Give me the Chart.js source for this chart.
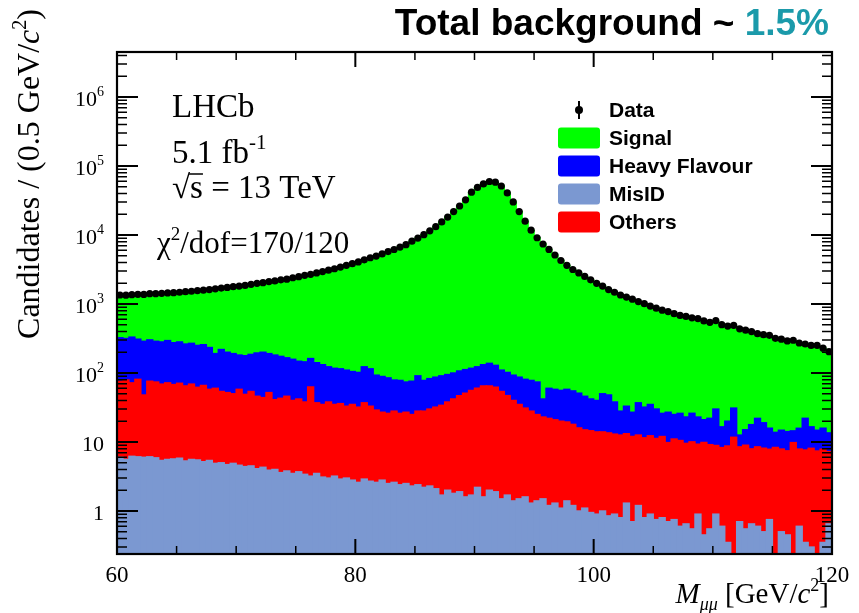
<!DOCTYPE html>
<html>
<head>
<meta charset="utf-8">
<title>Dimuon invariant mass</title>
<script src="https://cdn.jsdelivr.net/npm/chart.js@4.4.1/dist/chart.umd.min.js"></script>
<style>
  html, body { margin: 0; padding: 0; background: #fff; }
  #wrap { width: 859px; height: 613px; }
</style>
</head>
<body>
<div id="wrap"><canvas id="massChart" width="859" height="613"></canvas></div>
<script>
// ----- BINS: 120 x 0.5 GeV/c2 between 60 and 120 ----- //
const binCentres = [
  60.25, 60.75, 61.25, 61.75, 62.25, 62.75, 63.25, 63.75, 64.25, 64.75,
  65.25, 65.75, 66.25, 66.75, 67.25, 67.75, 68.25, 68.75, 69.25, 69.75,
  70.25, 70.75, 71.25, 71.75, 72.25, 72.75, 73.25, 73.75, 74.25, 74.75,
  75.25, 75.75, 76.25, 76.75, 77.25, 77.75, 78.25, 78.75, 79.25, 79.75,
  80.25, 80.75, 81.25, 81.75, 82.25, 82.75, 83.25, 83.75, 84.25, 84.75,
  85.25, 85.75, 86.25, 86.75, 87.25, 87.75, 88.25, 88.75, 89.25, 89.75,
  90.25, 90.75, 91.25, 91.75, 92.25, 92.75, 93.25, 93.75, 94.25, 94.75,
  95.25, 95.75, 96.25, 96.75, 97.25, 97.75, 98.25, 98.75, 99.25, 99.75,
  100.25, 100.75, 101.25, 101.75, 102.25, 102.75, 103.25, 103.75, 104.25, 104.75,
  105.25, 105.75, 106.25, 106.75, 107.25, 107.75, 108.25, 108.75, 109.25, 109.75,
  110.25, 110.75, 111.25, 111.75, 112.25, 112.75, 113.25, 113.75, 114.25, 114.75,
  115.25, 115.75, 116.25, 116.75, 117.25, 117.75, 118.25, 118.75, 119.25, 119.75
];

// fit components, stacked from the bottom up
const misIdCounts = [
  6.0, 5.6, 6.2, 6.1, 6.0, 6.1, 5.9, 5.4, 5.6, 5.7,
  5.8, 5.3, 5.6, 5.5, 5.2, 5.4, 4.9, 5.0, 4.7, 4.9,
  4.6, 4.4, 4.5, 4.1, 4.3, 3.9, 4.0, 3.6, 3.8, 3.5,
  3.7, 3.4, 3.2, 3.5, 3.1, 3.0, 3.2, 2.9, 3.0, 2.8,
  2.6, 2.9, 2.7, 2.6, 2.8, 2.5, 2.6, 2.4, 2.5, 2.3,
  2.4, 2.2, 2.3, 2.1, 1.7, 2.0, 1.8, 1.9, 1.6, 1.7,
  2.2, 1.6, 2.0, 1.9, 1.5, 1.7, 1.4, 1.5, 1.6, 1.3,
  1.4, 1.5, 1.2, 1.3, 1.1, 1.4, 1.2, 1.0, 1.1, 0.95,
  0.9, 1.0, 0.85, 0.9, 0.8, 1.3, 0.7, 1.2, 0.8, 0.9,
  0.75, 0.8, 0.7, 0.75, 0.6, 0.65, 0.55, 0.9, 0.45, 0.55,
  0.9, 0.6, 0.35, 0, 0.7, 0.55, 0.65, 0.6, 0.5, 0.75,
  0, 0.5, 0.45, 0, 0.6, 0.35, 0.3, 0, 0.35, 0.65
];
const othersCounts = [
  70.0, 73.4, 65.8, 74.9, 42.0, 69.9, 68.1, 63.6, 66.4, 62.3,
  65.2, 59.7, 63.4, 56.5, 60.8, 52.6, 55.1, 49.0, 47.3, 45.1,
  53.4, 44.6, 49.5, 41.9, 39.7, 48.1, 37.0, 39.4, 42.2, 36.5,
  38.3, 34.6, 59.8, 33.5, 31.9, 35.0, 31.8, 33.1, 30.0, 32.2,
  29.4, 34.1, 30.3, 26.4, 24.2, 23.5, 25.4, 23.6, 24.5, 22.7,
  25.6, 25.8, 27.7, 29.9, 32.3, 36.0, 40.2, 45.1, 49.4, 54.3,
  57.8, 63.4, 63.0, 60.1, 52.5, 45.3, 38.6, 33.5, 29.4, 26.7,
  23.6, 21.5, 20.8, 19.7, 18.9, 18.1, 16.8, 15.0, 13.9, 13.6,
  13.1, 13.0, 12.7, 12.1, 11.8, 11.9, 11.3, 11.4, 10.7, 11.4,
  10.5, 11.2, 9.1, 10.3, 9.9, 8.9, 9.5, 8.4, 9.4, 8.6,
  8.0, 7.7, 8.4, 11.7, 7.8, 8.4, 7.3, 7.9, 7.6, 7.1,
  8.3, 7.4, 7.0, 9.8, 7.3, 7.3, 7.8, 7.4, 7.5, 6.6
];
const heavyFlavourCounts = [
  248, 237, 259, 228, 240, 226, 214, 213, 223, 207,
  211, 198, 200, 189, 191, 176, 131, 165, 148, 141,
  124, 129, 132, 149, 156, 139, 141, 131, 120, 118,
  106, 107, 99, 104, 97, 85, 82, 79, 77, 70,
  70, 86, 82, 64, 62, 59, 51, 52, 47, 51,
  63, 50, 53, 55, 57, 57, 58, 60, 61, 61,
  63, 67, 73, 67, 56, 55, 53, 52, 50, 50,
  49, 19, 38, 37, 36, 38.5, 37, 35, 31, 27.5,
  26, 36, 34.5, 25, 15.4, 19.8, 15, 24.4, 20.5, 22.7,
  18.8, 14, 17.2, 14, 15.5, 13.5, 16, 13.7, 11.2, 12.9,
  21.1, 8.3, 11.3, 19.3, 4.1, 6.1, 9.9, 13.5, 10.9, 8,
  5.5, 6.9, 6.7, 4.7, 7.9, 14.4, 8.5, 7.4, 8, 6.3
];
const signalCounts = [
  1026, 1024, 1034, 1071, 1087, 1093, 1122, 1148, 1150, 1185,
  1198, 1247, 1276, 1314, 1328, 1386, 1469, 1481, 1540, 1589,
  1638, 1682, 1744, 1800, 1840, 1924, 1978, 2066, 2124, 2242,
  2337, 2455, 2528, 2679, 2818, 2967, 3123, 3315, 3520, 3740,
  3973, 4242, 4565, 4862, 5221, 5665, 6086, 6607, 7171, 8054,
  8924, 10042, 11397, 13093, 15399, 18105, 21780, 26193, 32248, 41573,
  48857, 54818, 59432, 58081, 51180, 40638, 30107, 21793, 15769, 11672,
  9046, 7368, 6110, 5072, 4214, 3572, 3105, 2769, 2464, 2198,
  1955, 1770, 1572, 1442, 1322, 1227, 1148, 1048, 978, 898,
  841, 787, 749, 699, 658, 638, 605, 580, 548, 521,
  530, 484, 459, 442, 424, 402, 380, 350, 340, 323,
  310, 294, 278, 270, 256, 241, 234, 228, 213, 190
];
const dataCounts = [
  1350, 1340, 1365, 1380, 1375, 1410, 1410, 1430, 1445, 1460,
  1480, 1510, 1530, 1565, 1585, 1620, 1660, 1700, 1740, 1780,
  1820, 1860, 1930, 1995, 2040, 2115, 2160, 2240, 2290, 2400,
  2485, 2600, 2690, 2820, 2950, 3090, 3240, 3430, 3630, 3845,
  4075, 4365, 4680, 4955, 5310, 5750, 6165, 6685, 7245, 8130,
  9015, 10120, 11480, 13180, 15490, 18200, 21880, 26300, 32360, 41690,
  48980, 54950, 59570, 58210, 51290, 40740, 30200, 21880, 15850, 11750,
  9120, 7410, 6170, 5130, 4270, 3630, 3160, 2820, 2510, 2240,
  1995, 1820, 1620, 1480, 1350, 1260, 1175, 1085, 1010, 933,
  871, 813, 776, 724, 684, 661, 631, 615, 569, 543,
  575, 501, 479, 490, 437, 417, 398, 372, 359, 352,
  318, 309, 292, 298, 272, 263, 251, 252, 229, 204
];

// ----- AXES ----- //
const xRange = [60, 120];
const xMajorTicks = [60, 80, 100, 120];
const xMinorTicks = [65, 70, 75, 85, 90, 95, 105, 110, 115];
const yRange = [0.238, 4.49e6];
const yDecades = [1, 10, 100, 1000, 10000, 100000, 1000000];
const yDecadeBase = ['1', '10', '10', '10', '10', '10', '10'];
const yDecadeExp = ['', '', '2', '3', '4', '5', '6'];

const legendLabels = ['Data', 'Signal', 'Heavy Flavour', 'MisID', 'Others'];
const COLORS = {signal: '#00ff00', heavy: '#0000ff', misid: '#7b98d1', others: '#ff0000'};

const SERIF = '"Liberation Serif", "DejaVu Serif", serif';
const SANS = '"Liberation Sans", Arial, sans-serif';

function toPoints(values) {
    return binCentres.map((m, i) => ({x: m, y: values[i]}));
}

// draws a run of text pieces [text, font, dy] left to right, returns end x
function drawPieces(ctx, pieces, x, y) {
    pieces.forEach(p => {
        ctx.font = p[1];
        ctx.fillText(p[0], x, y + (p[2] || 0));
        x += ctx.measureText(p[0]).width;
    });
    return x;
}
function piecesWidth(ctx, pieces) {
    let w = 0;
    pieces.forEach(p => { ctx.font = p[1]; w += ctx.measureText(p[0]).width; });
    return w;
}

// ----- ROOT STYLE FRAME, TICKS, LABELS AND LEGEND ----- //
const rootStyle = {
    id: 'rootStyle',
    afterDraw(chart) {
        const {ctx, chartArea: a} = chart;
        const xs = chart.scales.x, ys = chart.scales.y;
        ctx.save();
        ctx.strokeStyle = '#000';
        ctx.fillStyle = '#000';

        // y ticks on both sides, pointing inwards
        const yTick = (v, len, w) => {
            if (v < yRange[0] || v > yRange[1]) return;
            const py = ys.getPixelForValue(v);
            ctx.lineWidth = w;
            ctx.beginPath();
            ctx.moveTo(a.left, py); ctx.lineTo(a.left + len, py);
            ctx.moveTo(a.right, py); ctx.lineTo(a.right - len, py);
            ctx.stroke();
        };
        [0.1].concat(yDecades).forEach(d => {
            for (let k = 2; k <= 9; k++) yTick(d * k, 10, 1.5);
        });
        yDecades.forEach(d => yTick(d, 21, 2));

        // x ticks, top and bottom
        const xTick = (v, len, w) => {
            const px = xs.getPixelForValue(v);
            ctx.lineWidth = w;
            ctx.beginPath();
            ctx.moveTo(px, a.bottom); ctx.lineTo(px, a.bottom - len);
            ctx.moveTo(px, a.top); ctx.lineTo(px, a.top + len);
            ctx.stroke();
        };
        xMinorTicks.forEach(v => xTick(v, 8, 1.5));
        xMajorTicks.forEach(v => xTick(v, 15, 2));

        ctx.lineWidth = 2.2;
        ctx.strokeRect(a.left, a.top, a.right - a.left, a.bottom - a.top);

        // tick labels
        ctx.textBaseline = 'alphabetic';
        ctx.textAlign = 'left';
        yDecades.forEach((d, k) => {
            const py = ys.getPixelForValue(d);
            const pieces = [[yDecadeBase[k], '22px ' + SERIF, 0]];
            if (yDecadeExp[k]) pieces.push([yDecadeExp[k], '14px ' + SERIF, -10]);
            const w = piecesWidth(ctx, pieces);
            drawPieces(ctx, pieces, 104 - w, py + 9);
        });
        ctx.font = '23px ' + SERIF;
        ctx.textAlign = 'center';
        xMajorTicks.forEach(v => ctx.fillText(String(v), xs.getPixelForValue(v), 582));
        ctx.textAlign = 'left';

        // x axis title, right aligned
        const xTitle = [
            ['M', 'italic 29px ' + SERIF, 0],
            ['\u03bc\u03bc', 'italic 18px ' + SERIF, 7],
            [' [GeV/', '29px ' + SERIF, 0],
            ['c', 'italic 29px ' + SERIF, 0],
            ['2', '18px ' + SERIF, -12],
            [']', '29px ' + SERIF, 0]
        ];
        drawPieces(ctx, xTitle, 829 - piecesWidth(ctx, xTitle), 603);

        // y axis title, rotated
        const yTitle = [
            ['Candidates / (0.5 GeV/', '32px ' + SERIF, 0],
            ['c', 'italic 32px ' + SERIF, 0],
            ['2', '20px ' + SERIF, -13],
            [')', '32px ' + SERIF, 0]
        ];
        ctx.save();
        ctx.translate(39, 174);
        ctx.rotate(-Math.PI / 2);
        drawPieces(ctx, yTitle, -piecesWidth(ctx, yTitle) / 2, 0);
        ctx.restore();

        // experiment block
        ctx.font = '33px ' + SERIF;
        ctx.fillText('LHCb', 172, 117);
        drawPieces(ctx, [['5.1 fb', '33px ' + SERIF, 0], ['-1', '21px ' + SERIF, -14]], 172, 163);
        const sx = drawPieces(ctx, [['\u221a', '33px ' + SERIF, 0]], 172, 198);
        ctx.font = '33px ' + SERIF;
        const sw = ctx.measureText('s').width;
        ctx.lineWidth = 1.5;
        ctx.beginPath(); ctx.moveTo(sx - 1, 174); ctx.lineTo(sx + sw, 174); ctx.stroke();
        ctx.fillText('s = 13 TeV', sx, 198);
        drawPieces(ctx, [
            ['\u03c7', '31px ' + SERIF, 0],
            ['2', '19px ' + SERIF, -13],
            ['/dof=170/120', '31px ' + SERIF, 0]
        ], 157, 253);

        // legend
        const rowY = [110, 138, 166, 194, 222];
        const boxColors = [null, COLORS.signal, COLORS.heavy, COLORS.misid, COLORS.others];
        ctx.font = 'bold 21px ' + SANS;
        ctx.textBaseline = 'middle';
        legendLabels.forEach((label, k) => {
            const cy = rowY[k];
            if (k === 0) {
                ctx.lineWidth = 2;
                ctx.beginPath(); ctx.moveTo(579, cy - 9); ctx.lineTo(579, cy + 9); ctx.stroke();
                ctx.beginPath(); ctx.arc(579, cy, 4, 0, Math.PI * 2); ctx.fill();
            } else {
                ctx.fillStyle = boxColors[k];
                ctx.beginPath();
                ctx.roundRect(558, cy - 10.5, 42, 21, 3);
                ctx.fill();
                ctx.fillStyle = '#000';
            }
            ctx.fillText(label, 609, cy + 1);
        });

        // headline above the frame
        ctx.textBaseline = 'alphabetic';
        const head = [['Total background ~ ', 'bold 37px ' + SANS, 0], ['1.5%', 'bold 37px ' + SANS, 0]];
        let hx = 829 - piecesWidth(ctx, head);
        ctx.font = head[0][1];
        ctx.fillStyle = '#000';
        ctx.fillText(head[0][0], hx, 35);
        hx += ctx.measureText(head[0][0]).width;
        ctx.fillStyle = '#1b9aaa';
        ctx.fillText(head[1][0], hx, 35);
        ctx.restore();
    }
};

// adjacent bins overlap slightly so no seams show between them
const barDefaults = {
    type: 'bar', barPercentage: 1, categoryPercentage: 1,
    borderWidth: 0, inflateAmount: 0.7, stack: 'fit'
};

new Chart(document.getElementById('massChart'), {
    type: 'bar',
    data: {
        datasets: [
            {
                type: 'line', label: 'Data', data: toPoints(dataCounts),
                showLine: false, pointRadius: 3.6, pointHoverRadius: 3.6,
                pointBackgroundColor: '#000', pointBorderWidth: 0, clip: false
            },
            Object.assign({label: 'MisID', data: toPoints(misIdCounts), backgroundColor: COLORS.misid}, barDefaults),
            Object.assign({label: 'Others', data: toPoints(othersCounts), backgroundColor: COLORS.others}, barDefaults),
            Object.assign({label: 'Heavy Flavour', data: toPoints(heavyFlavourCounts), backgroundColor: COLORS.heavy}, barDefaults),
            Object.assign({label: 'Signal', data: toPoints(signalCounts), backgroundColor: COLORS.signal}, barDefaults)
        ]
    },
    options: {
        responsive: false,
        animation: false,
        devicePixelRatio: 1,
        layout: {padding: {left: 117, right: 27, top: 52, bottom: 59}},
        plugins: {legend: {display: false}, tooltip: {enabled: false}},
        scales: {
            x: {type: 'linear', min: xRange[0], max: xRange[1], offset: false, display: false, stacked: true},
            y: {type: 'logarithmic', min: yRange[0], max: yRange[1], display: false, stacked: true}
        }
    },
    plugins: [rootStyle]
});
</script>
</body>
</html>
